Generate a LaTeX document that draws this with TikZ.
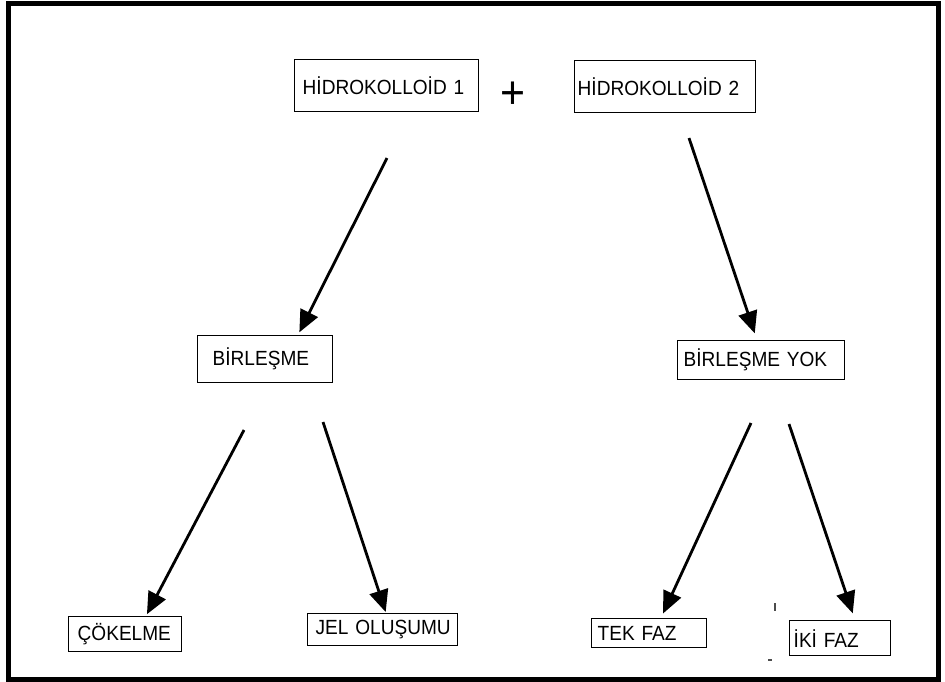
\documentclass[tikz,border=0pt]{standalone}
\usepackage{fontspec}
\setmainfont{Liberation Sans}[FakeStretch=0.93]
\usetikzlibrary{arrows.meta,calc}
\tikzset{
  box/.style={draw=black, line width=1.4pt, rectangle, anchor=north west, inner ysep=0pt,
    font=\fontsize{20.5}{23}\selectfont, align=left},
  arr/.style={line width=2.8pt, -{Triangle[length=22pt,width=19pt]}},
  speck/.style={draw=black!70, line width=1.2pt}
}
\newcommand{\mybox}[7]{% name, x1, y1, x2, y2, pad, text
  \node[box, minimum height={#5-#3}, text width={#4-#2-2*#6}, inner xsep=#6] (#1) at (#2,#3) {\mbox{#7}};
}
\begin{document}
\begin{tikzpicture}[x=1pt,y=-1pt]
\useasboundingbox (0,0) rectangle (945,681);
\fill[white] (0,0) rectangle (945,681);
\draw[line width=5pt] (8.5,3.5) rectangle (938.5,679.5);

\mybox{hA}{294}{59}{478}{111}{8}{HİDROKOLLOİD 1}
\mybox{hB}{574}{60}{755}{112}{3}{HİDROKOLLOİD 2}
\mybox{bir}{197}{335}{332}{382}{15}{BİRLEŞME}
\mybox{yok}{677}{340}{844}{379}{6}{BİRLEŞME YOK}
\mybox{cok}{68}{616}{181}{651}{9}{ÇÖKELME}
\mybox{jel}{307}{613}{457}{645}{8}{JEL OLUŞUMU}
\mybox{tek}{591}{618}{706}{647}{6}{TEK FAZ}
\mybox{iki}{789}{620}{890}{655}{4}{İKİ FAZ}

\node[inner sep=0pt, font=\fontsize{46}{46}\selectfont] (plus) at (513,95) {+};

\coordinate (s1) at (387,158);
\coordinate (s2) at (689,138);
\coordinate (s3) at (244,430);
\coordinate (s4) at (323,422);
\coordinate (s5) at (751,423);
\coordinate (s6) at (789,424);

\draw[arr, shorten >=3pt] (s1) -- ([xshift=101pt]bir.north west);
\draw[arr, shorten >=7pt] (s2) -- ([xshift=80pt]yok.north west);
\draw[arr, shorten >=2pt] (s3) -- ([xshift=78pt]cok.north west);
\draw[arr, shorten >=1pt] (s4) -- ([xshift=79pt]jel.north west);
\draw[arr, shorten >=5pt] (s5) -- ([xshift=70pt]tek.north west);
\draw[arr, shorten >=7pt] (s6) -- ([xshift=66pt]iki.north west);

\draw[speck] (775,603) -- (775,611);
\draw[speck] (768,660) -- (772,660);
\end{tikzpicture}
\end{document}
